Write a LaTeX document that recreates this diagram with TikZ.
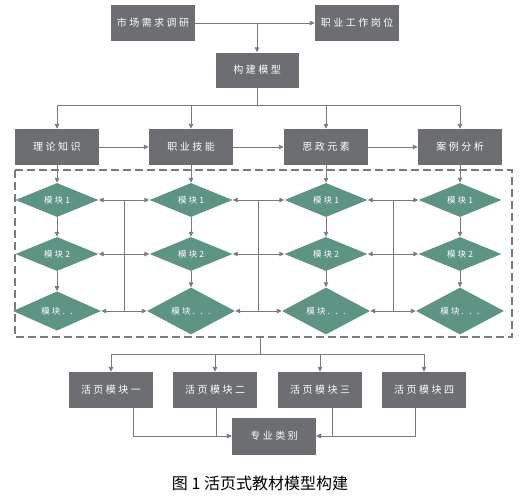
\documentclass[tikz,border=0pt]{standalone}
\usepackage{fontspec}
\newfontfamily\cjk[LetterSpace=25]{Noto Sans CJK SC}
\newfontfamily\cjkcap{Noto Sans CJK SC}
\usetikzlibrary{shapes.geometric,arrows.meta,calc}
\definecolor{boxgray}{HTML}{6C6E72}
\definecolor{modgreen}{HTML}{5E9484}
\definecolor{linegray}{HTML}{7A7A7A}
\begin{document}
\begin{tikzpicture}[x=1pt, y=-1pt,
    box/.style={fill=boxgray, text=white, font=\cjk\fontsize{10}{12}\selectfont,
        minimum width=84pt, minimum height=36pt, inner sep=0pt},
    module/.style={diamond, fill=modgreen, text=white, font=\cjk\fontsize{8.5}{10}\selectfont,
        minimum width=83pt, minimum height=34pt, inner sep=0pt},
    link/.style={draw=linegray, line width=0.9pt},
    arr/.style={link, -{Triangle[length=5pt,width=4.5pt]}}]

    \useasboundingbox (0,0) rectangle (531,499);

    % top part
    \node[box] (mkt) at (153,23) {市场需求调研};
    \node[box] (job) at (357,23) {职业工作岗位};
    \node[box, minimum width=83pt, minimum height=35pt] (build) at (257,70) {构建模型};

    \draw[arr] (mkt.east) -- (job.west);
    \draw[arr] (mkt.east -| build.north) -- (build.north);

    \node[box] (theory) at (57,147) {理论知识};
    \node[box] (skill) at (191,147) {职业技能};
    \node[box] (ideo) at (326,147) {思政元素};
    \node[box] (case) at (460,147) {案例分析};

    \draw[link] (build.south) -- ++(0,18) coordinate (b1);
    \draw[link] (b1 -| theory) -- (b1 -| case);
    \foreach \n in {theory,skill,ideo,case}
        \draw[arr] (b1 -| \n.north) -- (\n.north);
    \draw[arr] (theory.east) -- (skill.west);
    \draw[arr] (skill.east) -- (ideo.west);
    \draw[arr] (ideo.east) -- (case.west);

    % module area
    \draw[linegray, line width=1.1pt, dash pattern=on 8pt off 4pt] (15,170) rectangle (512,337);
    \coordinate (frameS) at (260,337);

    \foreach \c/\x/\more in {1/57/{. .},2/191/{. . .},3/326/{. . .},4/460/{. . .}} {
        \node[module] (d\c1) at (\x,200) {模块1};
        \node[module] (d\c2) at (\x,254) {模块2};
        \node[module, minimum width=88pt, minimum height=36pt] (d\c3) at (\x,311) {模块\more};
    }

    \foreach \c/\n in {1/theory,2/skill,3/ideo,4/case} {
        \draw[arr] (\n.south) -- (d\c1.north);
        \draw[arr] (d\c1.south) -- (d\c2.north);
        \draw[arr] (d\c2.south) -- (d\c3.north);
    }

    \foreach \a/\b in {1/2,2/3,3/4} {
        \coordinate (m\a) at ($(d\a1.east)!0.5!(d\b1.west)$);
        \draw[link] (m\a) -- (m\a |- d\a3.east);
        \foreach \r in {1,2,3} {
            \draw[arr] (m\a |- d\a\r.east) -- (d\a\r.east);
            \draw[arr] (m\a |- d\a\r.east) -- (d\b\r.west);
        }
    }

    % bottom part
    \node[box] (p1) at (111,390) {活页模块一};
    \node[box] (p2) at (215,390) {活页模块二};
    \node[box] (p3) at (320,390) {活页模块三};
    \node[box] (p4) at (424,390) {活页模块四};
    \node[box, minimum height=37pt] (major) at (274,436) {专业类别};

    \draw[link] (frameS) -- ++(0,17) coordinate (b2);
    \draw[link] (b2 -| p1) -- (b2 -| p4);
    \foreach \p in {p1,p2,p3,p4}
        \draw[arr] (b2 -| \p.north) -- (\p.north);

    \draw[arr] ([xshift=22pt]p1.south) |- (major.west);
    \draw[arr] ([xshift=1pt]p2.south) |- (major.west);
    \draw[arr] ([xshift=12pt]p3.south) |- (major.east);
    \draw[arr] ([xshift=-9pt]p4.south) |- (major.east);

    \node[font=\cjkcap\fontsize{16}{18}\selectfont] (cap) at (260,483) {图 1 活页式教材模型构建};
\end{tikzpicture}
\end{document}
